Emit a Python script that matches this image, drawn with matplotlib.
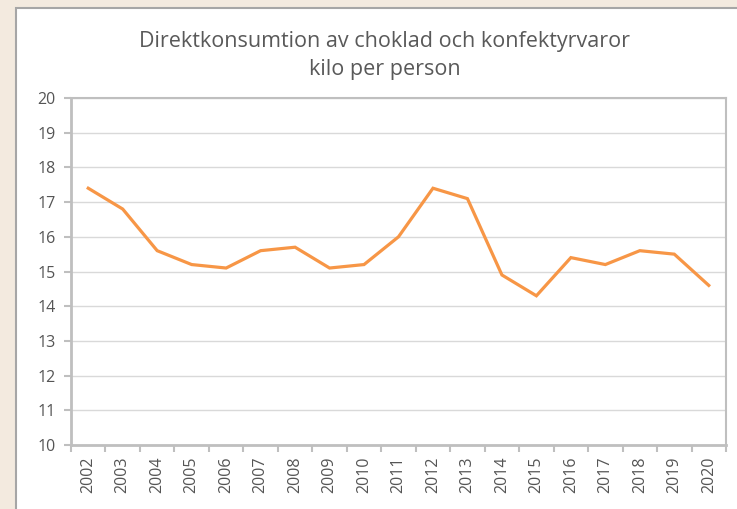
import matplotlib.pyplot as plt
from matplotlib.patches import Rectangle

years = [str(y) for y in range(2002, 2021)]
kilo = [17.4, 16.8, 15.6, 15.2, 15.1, 15.6, 15.7, 15.1, 15.2, 16.0,
        17.4, 17.1, 14.9, 14.3, 15.4, 15.2, 15.6, 15.5, 14.6]
y_ticks = list(range(10, 21))

plt.rcParams['font.family'] = ['Open Sans', 'DejaVu Sans']

fig = plt.figure(figsize=(7.37, 5.09), dpi=100)
fig.patch.set_facecolor('#f3eadf')

# white chart panel with grey frame (runs off the right and bottom edges)
panel = Rectangle((16 / 737, -0.05), 1.2, 1 - 8 / 509 + 0.05, transform=fig.transFigure,
                  facecolor='white', edgecolor='#a6a6a6', linewidth=1.5, zorder=-1)
fig.patches.append(panel)

fig.text(385 / 737, 1 - 41 / 509, 'Direktkonsumtion av choklad och konfektyrvaror',
         ha='center', va='center', fontsize=15.5, color='#595959')
fig.text(385 / 737, 1 - 69 / 509, 'kilo per person',
         ha='center', va='center', fontsize=15.5, color='#595959')

ax = fig.add_axes([71 / 737, 1 - 445 / 509, (726 - 71) / 737, (445 - 98) / 509])
ax.set_zorder(2)
ax.set_facecolor('white')

x = list(range(len(years)))
ax.plot(x, kilo, color='#f79646', linewidth=2.3, solid_joinstyle='miter', zorder=3)

ax.set_ylim(10, 20)
ax.set_xlim(-0.5, len(years) - 0.5)
ax.set_yticks(y_ticks)
ax.set_yticklabels([str(v) for v in y_ticks])
ax.grid(axis='y', color='#d9d9d9', linewidth=1)
ax.set_axisbelow(True)

ax.set_xticks(x)
ax.set_xticklabels(years, rotation=90)
ax.set_xticks([i - 0.5 for i in range(len(years) + 1)], minor=True)
ax.tick_params(axis='x', which='major', length=0, pad=8)
ax.tick_params(axis='x', which='minor', length=5, width=1.5, color='#bfbfbf')
ax.tick_params(axis='y', length=5, width=1.5, color='#bfbfbf', pad=6)
ax.tick_params(labelsize=11.5, labelcolor='#555555')

for side in ['left', 'bottom']:
    ax.spines[side].set_color('#bfbfbf')
    ax.spines[side].set_linewidth(2)
for side in ['right', 'top']:
    ax.spines[side].set_color('#bfbfbf')
    ax.spines[side].set_linewidth(1.5)

plt.savefig('out.png', dpi=100, facecolor=fig.get_facecolor())
